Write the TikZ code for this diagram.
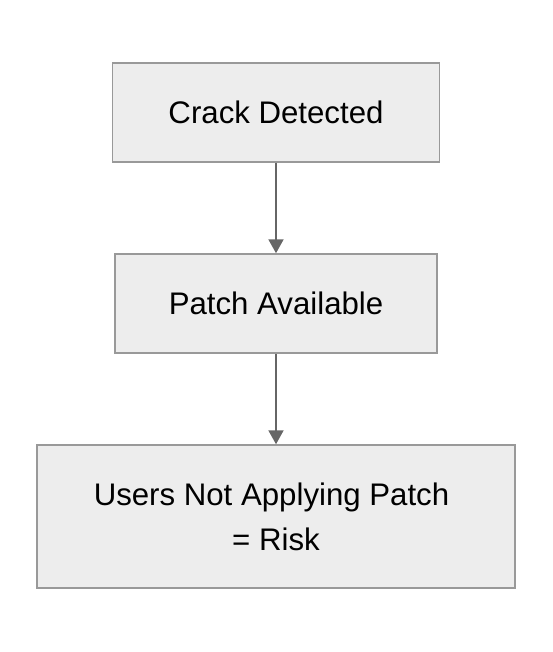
\documentclass[tikz,border=0pt]{standalone}
\usepackage{fontspec}
\setmainfont{Liberation Sans}
\usetikzlibrary{arrows.meta}
\begin{document}
\begin{tikzpicture}[x=1pt,y=-1pt,
  box/.style={draw=black!40,fill=black!7,line width=1.5pt,inner sep=0pt,
    font=\fontsize{31.2}{45}\selectfont,align=center,text=black},
  link/.style={draw=black!60,line width=2pt,-{Triangle[length=14pt,width=15pt]}}]
\useasboundingbox (0,0) rectangle (552,652);
\fill[white] (0,0) rectangle (552,652);
\node[box,minimum width=327pt,minimum height=99pt] (b1) at (276,112.5) {Crack Detected};
\node[box,minimum width=322pt,minimum height=99pt] (b2) at (276,303.5) {Patch Available};
\node[box,minimum width=478pt,minimum height=143pt] (b3) at (276,516.5) {Users Not Applying Patch\kern9pt\\= Risk};
\draw[link] (b1) -- (b2);
\draw[link] (b2) -- (b3);
\end{tikzpicture}
\end{document}
